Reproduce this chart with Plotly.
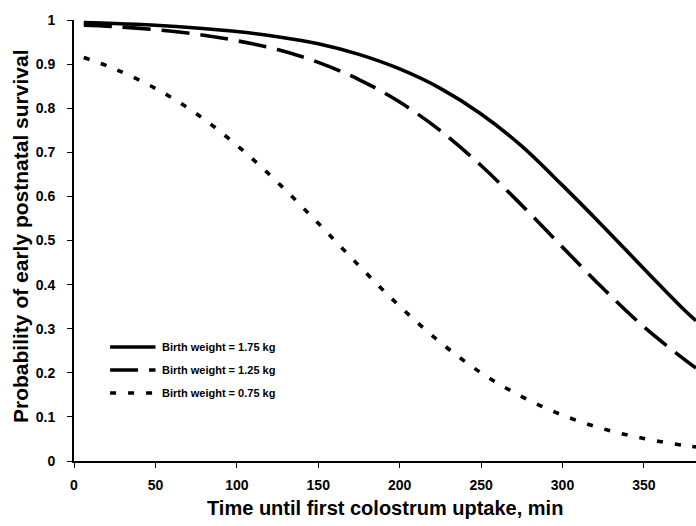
import plotly.graph_objects as go

# Early postnatal survival vs. time to first colostrum uptake, by birth weight
t_175 = [6, 25, 50, 75, 100, 125, 150, 175, 200, 225, 250, 275, 300, 325, 350, 375, 382]
p_175 = [0.994, 0.992, 0.988, 0.982, 0.974, 0.962, 0.946, 0.922, 0.889, 0.845, 0.787, 0.714, 0.625, 0.532, 0.436, 0.342, 0.318]

t_125 = [6, 25, 50, 75, 100, 125, 150, 175, 200, 225, 250, 275, 300, 325, 350, 375, 382]
p_125 = [0.988, 0.985, 0.978, 0.968, 0.953, 0.933, 0.904, 0.865, 0.814, 0.749, 0.670, 0.580, 0.485, 0.391, 0.304, 0.230, 0.211]

t_075 = [6, 25, 50, 75, 100, 125, 150, 175, 200, 225, 250, 275, 300, 325, 350, 375, 382]
p_075 = [0.915, 0.889, 0.845, 0.788, 0.716, 0.632, 0.539, 0.443, 0.351, 0.269, 0.200, 0.146, 0.104, 0.073, 0.051, 0.035, 0.032]

legend_labels = ["Birth weight = 1.75 kg", "Birth weight = 1.25 kg", "Birth weight = 0.75 kg"]
x_ticks = [0, 50, 100, 150, 200, 250, 300, 350]

FONT = "Arial, Liberation Sans, sans-serif"
styles = [
    dict(color="black", width=3.6, dash="solid"),
    dict(color="black", width=3.6, dash="28px,11px"),
    dict(color="black", width=3.6, dash="6px,12px"),
]

fig = go.Figure()
for (tx, py), st, name in zip([(t_175, p_175), (t_125, p_125), (t_075, p_075)], styles, legend_labels):
    fig.add_trace(go.Scatter(x=tx, y=py, mode="lines", name=name, showlegend=False,
                             line=dict(shape="spline", smoothing=1.0, **st)))

# Hand-placed legend: line samples plus labels in paper coordinates
leg_y = [0.2585, 0.2063, 0.1542]
for yy, st, name in zip(leg_y, styles, legend_labels):
    fig.add_shape(type="line", xref="paper", yref="paper", x0=0.058, x1=0.131, y0=yy, y1=yy,
                  line=st)
    fig.add_annotation(xref="paper", yref="paper", x=0.139, y=yy, text=name, showarrow=False,
                       xanchor="left", yanchor="middle",
                       font=dict(family=FONT, size=11, color="black", weight="bold"))

fig.add_annotation(xref="paper", yref="paper", x=0.5, y=-0.1075, text="Time until first colostrum uptake, min",
                   showarrow=False, xanchor="center", yanchor="middle",
                   font=dict(family=FONT, size=20, color="black", weight="bold"))
fig.add_annotation(xref="paper", yref="paper", x=-0.087, y=0.51, text="Probability of early postnatal survival",
                   showarrow=False, textangle=-90, xanchor="center", yanchor="middle",
                   font=dict(family=FONT, size=21, color="black", weight="bold"))

axis_common = dict(showline=True, linecolor="black", linewidth=2, ticks="outside", ticklen=5,
                   tickwidth=1.2, tickcolor="black", showgrid=False, zeroline=False,
                   tickfont=dict(family=FONT, size=14, color="black", weight="bold"))
fig.update_xaxes(range=[0, 382], tickvals=x_ticks, ticklabelstandoff=5, **axis_common)
fig.update_yaxes(range=[0, 1], dtick=0.1, tick0=0, ticklabelstandoff=9, **axis_common)

fig.update_layout(width=696, height=526, margin=dict(l=74, r=0, t=20, b=65),
                  paper_bgcolor="white", plot_bgcolor="white",
                  font=dict(family=FONT, color="black"))

fig.write_html("out.html")
